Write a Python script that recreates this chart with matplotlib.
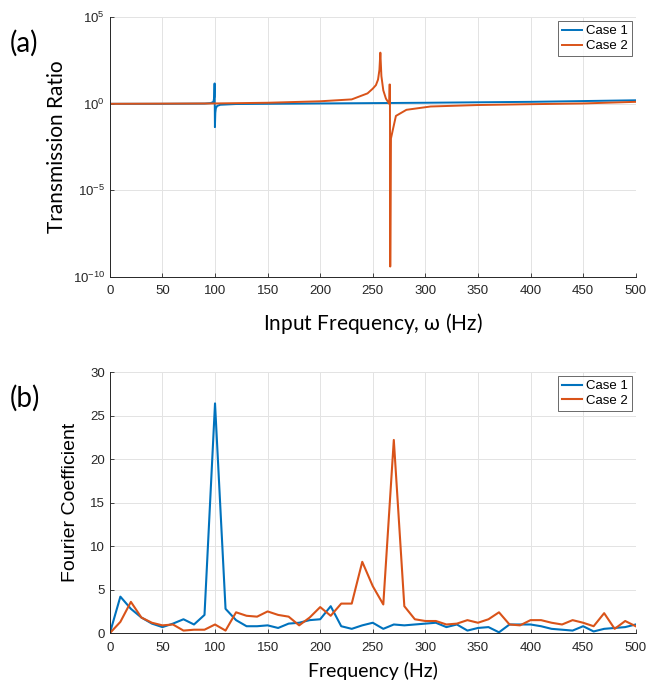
import matplotlib
matplotlib.use("Agg")
import matplotlib.pyplot as plt
import numpy as np

plt.rcParams['font.family'] = ['Liberation Sans', 'DejaVu Sans']
plt.rcParams['mathtext.default'] = 'regular'

BLUE = '#0072BD'
ORANGE = '#D95319'
LABEL_FONT = ['Lato', 'DejaVu Sans']

# (a) transmission ratio
case1_freq = [0, 50, 90, 96, 98.5, 99.3, 99.6, 99.9, 100.3, 100.8, 102, 105, 120, 200, 300, 400, 500]
case1_ratio = [1.0, 1.0, 1.03, 1.1, 1.3, 2.5, 15, 0.045, 0.3, 0.55, 0.75, 0.88, 0.97, 1.05, 1.15, 1.3, 1.6]

case2_freq = [0, 100, 150, 200, 230, 245, 250, 253, 255, 256.3, 257.2, 258.2, 260, 262.5,
              265.6, 265.9, 266.3, 266.6, 267.3, 269, 272, 282, 305, 350, 400, 450, 500]
case2_ratio = [1.0, 1.05, 1.15, 1.4, 1.8, 4.0, 7.5, 12, 25, 90, 900, 40, 6, 2.0,
               1.0, 13, 13, 4e-10, 0.01, 0.03, 0.2, 0.45, 0.7, 0.85, 0.95, 1.05, 1.3]

# (b) Fourier coefficients, every 10 Hz
fft_freq = list(range(0, 501, 10))
fft_case1 = [0, 4.2, 2.8, 1.8, 1.1, 0.7, 1.1, 1.6, 1.0, 2.1,
             26.4, 2.8, 1.5, 0.8, 0.8, 0.9, 0.6, 1.1, 1.2, 1.5,
             1.6, 3.1, 0.8, 0.5, 0.9, 1.2, 0.5, 1.0, 0.9, 1.0,
             1.1, 1.2, 0.7, 1.0, 0.3, 0.6, 0.7, 0.1, 1.0, 1.0,
             1.0, 0.8, 0.5, 0.4, 0.3, 0.8, 0.2, 0.5, 0.6, 0.7, 1.0]
fft_case2 = [0, 1.3, 3.6, 1.8, 1.2, 0.9, 1.0, 0.3, 0.4, 0.4,
             1.0, 0.3, 2.4, 2.0, 1.9, 2.5, 2.1, 1.9, 0.9, 1.8,
             3.0, 2.0, 3.4, 3.4, 8.2, 5.4, 3.3, 22.2, 3.1, 1.6,
             1.4, 1.4, 1.0, 1.1, 1.5, 1.2, 1.6, 2.4, 1.0, 0.9,
             1.5, 1.5, 1.2, 1.0, 1.5, 1.2, 0.8, 2.3, 0.5, 1.4, 0.8]

fig = plt.figure(figsize=(6.5, 6.89), dpi=100)
ax1 = fig.add_axes([0.169, 0.598, 0.809, 0.377])
ax2 = fig.add_axes([0.169, 0.081, 0.809, 0.379])


def style(ax):
    ax.grid(True, color='#e3e3e3', linewidth=0.7)
    ax.set_axisbelow(True)
    for side in ('top', 'right'):
        ax.spines[side].set_visible(False)
    for side in ('left', 'bottom'):
        ax.spines[side].set_color('#262626')
        ax.spines[side].set_linewidth(0.7)
    ax.tick_params(direction='in', length=3, width=0.6, labelsize=9.5, colors='#262626',
                   labelcolor='#262626')
    ax.tick_params(axis='x', pad=6)
    ax.set_xlim(0, 500)
    ax.set_xticks(range(0, 501, 50))


def add_legend(ax):
    leg = ax.legend(loc='upper right', fontsize=9.5, handlelength=1.5, handletextpad=0.3,
                    borderpad=0.3, labelspacing=0.2, fancybox=False, borderaxespad=0.3)
    leg.get_frame().set_edgecolor('#262626')
    leg.get_frame().set_linewidth(0.6)


ax1.plot(case1_freq, case1_ratio, color=BLUE, lw=1.4, label='Case 1')
ax1.plot(case2_freq, case2_ratio, color=ORANGE, lw=1.4, label='Case 2')
ax1.set_yscale('log')
ax1.set_ylim(1e-10, 1e5)
ax1.set_yticks([1e-10, 1e-5, 1e0, 1e5])
ax1.minorticks_off()
style(ax1)
ax1.set_xlabel('Input Frequency, $\\omega$ (Hz)', fontsize=15, family=LABEL_FONT, labelpad=10)
ax1.set_ylabel('Transmission Ratio', fontsize=15, family=LABEL_FONT, labelpad=4)
add_legend(ax1)

ax2.plot(fft_freq, fft_case1, color=BLUE, lw=1.5, label='Case 1')
ax2.plot(fft_freq, fft_case2, color=ORANGE, lw=1.5, label='Case 2')
ax2.set_ylim(0, 30)
ax2.set_yticks(range(0, 31, 5))
style(ax2)
ax2.set_xlabel('Frequency (Hz)', fontsize=14, family=LABEL_FONT, labelpad=6)
ax2.set_ylabel('Fourier Coefficient', fontsize=14, labelpad=8)
add_legend(ax2)

fig.text(0.015, 0.925, '(a)', fontsize=20, family=LABEL_FONT)
fig.text(0.015, 0.41, '(b)', fontsize=20, family=LABEL_FONT)

fig.savefig('out.png', dpi=100)
